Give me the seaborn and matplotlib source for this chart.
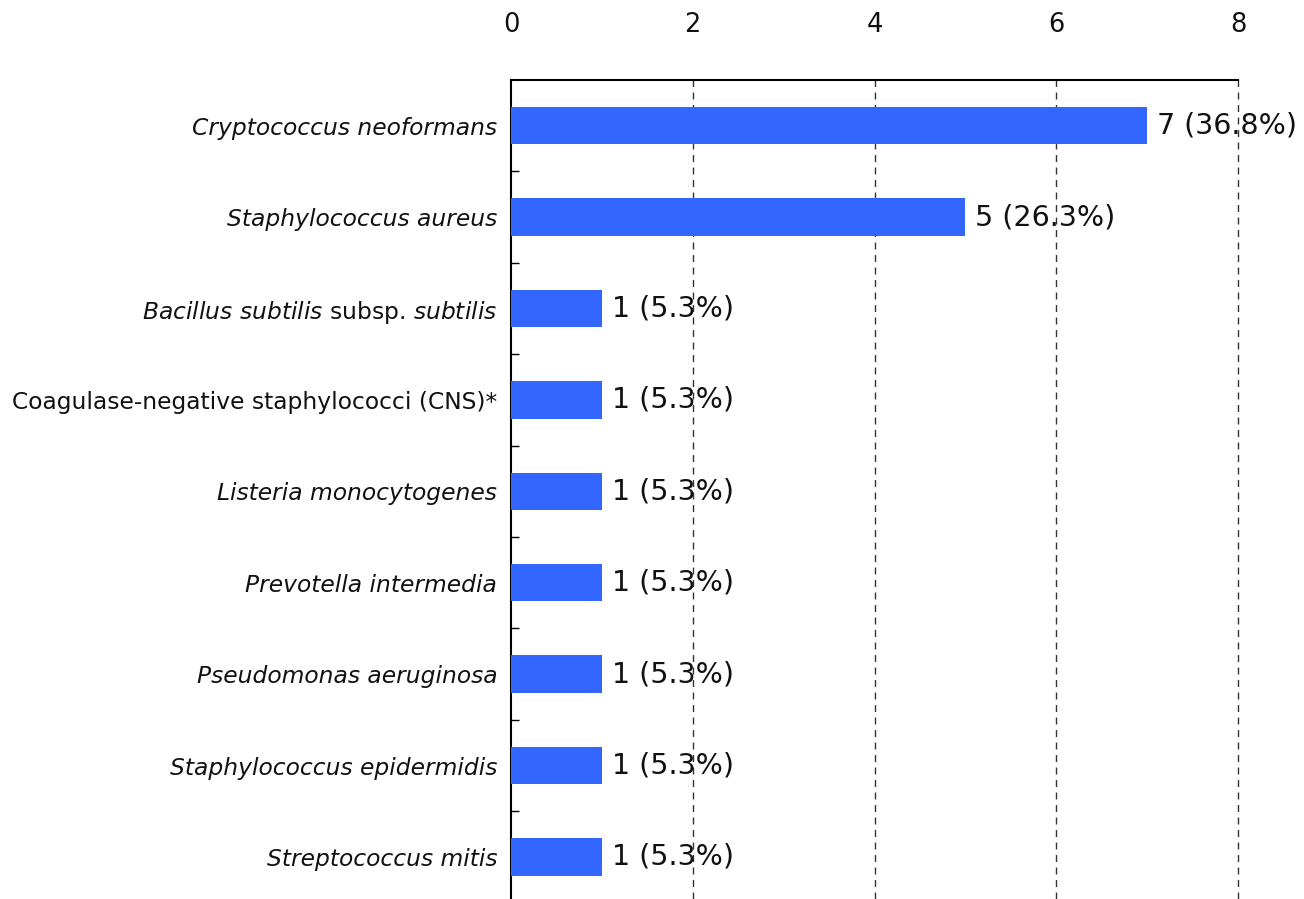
import matplotlib
matplotlib.use("Agg")
import matplotlib.pyplot as plt
import seaborn as sns
import pandas as pd
from matplotlib.ticker import FixedLocator

species = [
    "Cryptococcus neoformans",
    "Staphylococcus aureus",
    r"$\it{Bacillus\ subtilis}$ subsp. $\it{subtilis}$",
    "Coagulase-negative staphylococci (CNS)*",
    "Listeria monocytogenes",
    "Prevotella intermedia",
    "Pseudomonas aeruginosa",
    "Staphylococcus epidermidis",
    "Streptococcus mitis",
]
italic_label = [True, True, False, False, True, True, True, True, True]
counts = [7, 5, 1, 1, 1, 1, 1, 1, 1]
percents = ["36.8", "26.3", "5.3", "5.3", "5.3", "5.3", "5.3", "5.3", "5.3"]

sns.set_style("white")
plt.rcParams["font.family"] = ["DejaVu Sans"]
plt.rcParams["mathtext.fontset"] = "dejavusans"

df = pd.DataFrame({"species": species, "count": counts})

fig = plt.figure(figsize=(13.04, 8.99), dpi=100)
ax = fig.add_axes([0.3919, 0.0, 0.9494 - 0.3919, 0.911])

sns.barplot(data=df, x="count", y="species", color="#3366ff", width=0.41,
            saturation=1, linewidth=0, edgecolor="none", ax=ax, zorder=3)

for i, (c, p) in enumerate(zip(counts, percents)):
    ax.text(c + 0.11, i, f"{c} ({p}%)", va="center", ha="left", fontsize=20.5,
            color="#111111", zorder=4)

ax.set_xlim(0, 8)
ax.set_ylim(8.46, -0.5)
ax.set_xlabel("")
ax.set_ylabel("")

# dashed grid lines
for gx in [2, 4, 6, 8]:
    ax.axvline(gx, color="#333333", linestyle=(0, (5, 4)), linewidth=1, zorder=1,
               clip_on=False)

ax.xaxis.set_ticks_position("top")
ax.set_xticks([0, 2, 4, 6, 8])
ax.tick_params(axis="x", top=True, labeltop=True, bottom=False, labelbottom=False,
               length=0, pad=30, labelsize=18.5, labelcolor="#111111")

ax.tick_params(axis="y", which="major", length=0, pad=10, labelsize=16.8)
ax.yaxis.set_minor_locator(FixedLocator([i + 0.5 for i in range(len(species) - 1)]))
ax.tick_params(axis="y", which="minor", left=True, direction="in", length=6, width=1,
               color="black")

for lbl, it in zip(ax.get_yticklabels(), italic_label):
    if it:
        lbl.set_fontstyle("italic")
    lbl.set_color("#111111")

for s in ["right", "bottom"]:
    ax.spines[s].set_visible(False)
for s in ["left", "top"]:
    ax.spines[s].set_color("black")
    ax.spines[s].set_linewidth(1.5)

fig.savefig("out.png", dpi=100)
